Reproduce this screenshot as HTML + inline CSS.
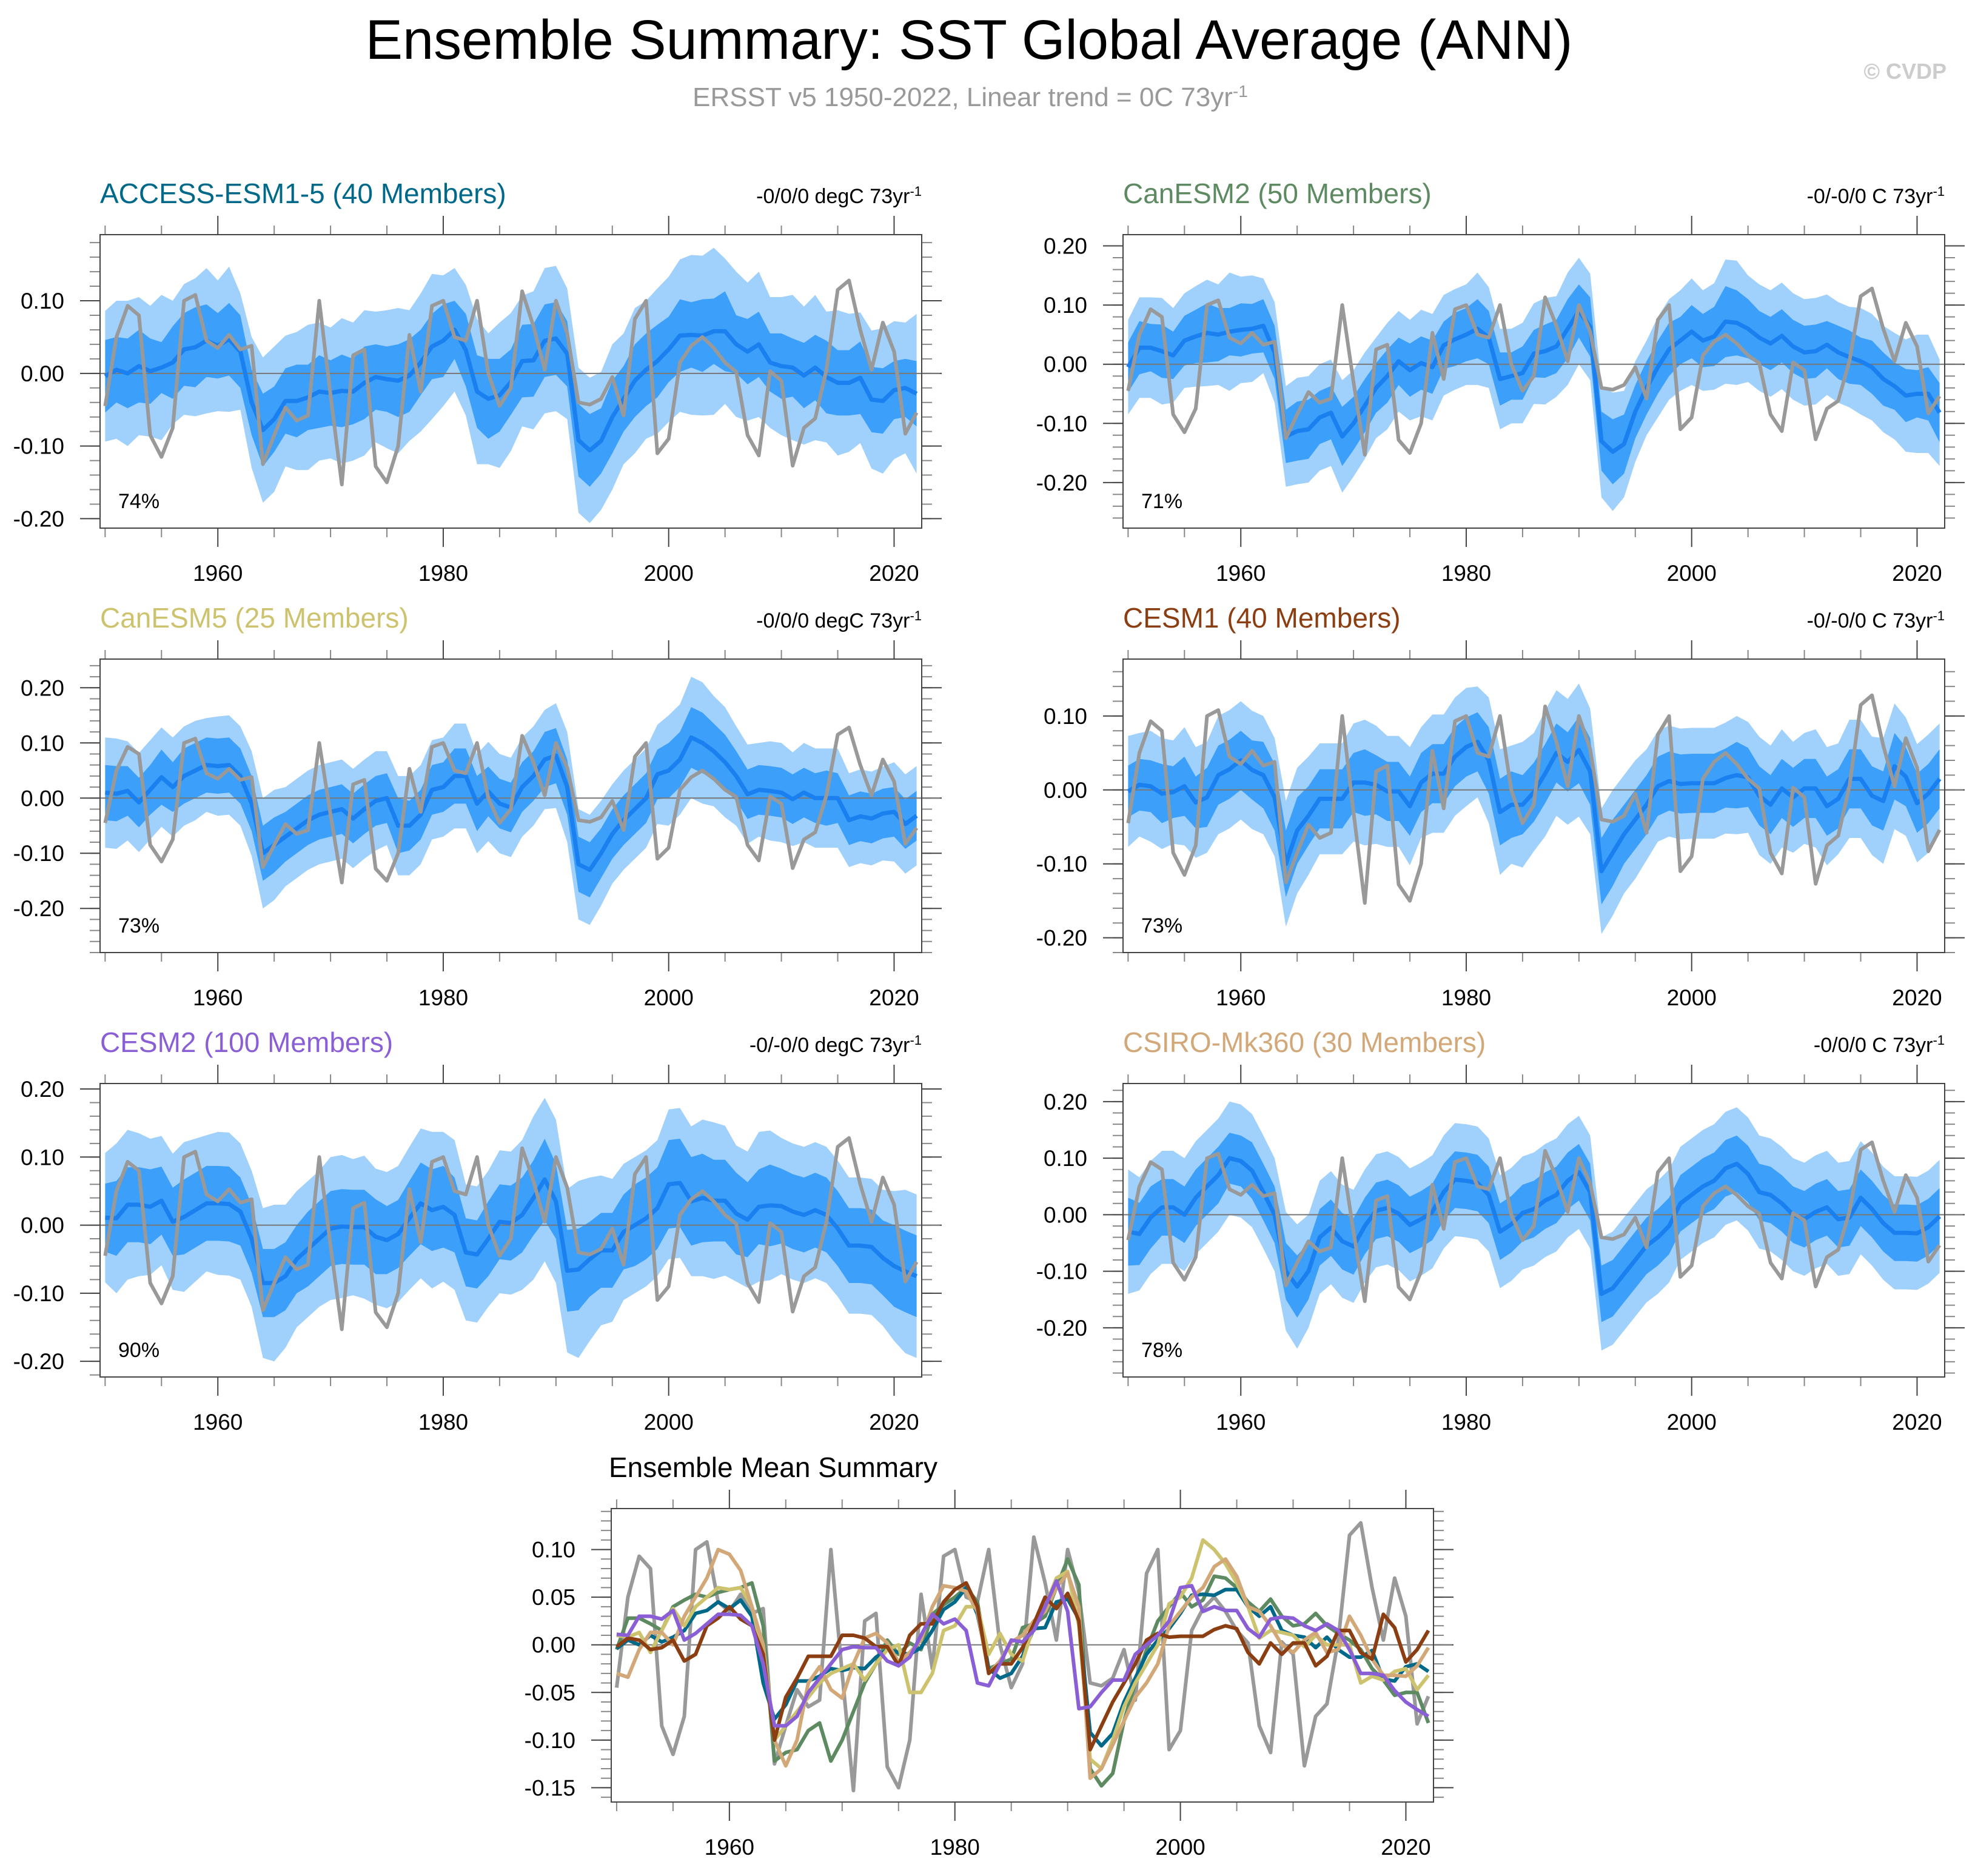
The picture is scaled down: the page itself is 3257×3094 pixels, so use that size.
<!DOCTYPE html>
<html><head><meta charset="utf-8"><title>Ensemble Summary: SST Global Average (ANN)</title>
<style>html,body{margin:0;padding:0;background:#fff}svg{display:block}text{font-family:"Liberation Sans",sans-serif}</style>
</head><body>
<svg id="chart" xmlns="http://www.w3.org/2000/svg" width="3257" height="3094" viewBox="0 0 3257 3094">
<rect width="3257" height="3094" fill="#fff"/>
<text x="1598" y="97" text-anchor="middle" font-size="92" fill="#000">Ensemble Summary: SST Global Average (ANN)</text>
<text x="1600" y="175" text-anchor="middle" font-size="44" fill="#999">ERSST v5 1950-2022, Linear trend = 0C 73yr<tspan baseline-shift="super" font-size="28">-1</tspan></text>
<text x="3210" y="130" text-anchor="end" font-size="36" font-weight="bold" fill="#ccc">© CVDP</text>
</svg>
<script>
const years = [];
for (let y = 1950; y <= 2022; y++) years.push(y);

const obs = [-0.045,0.05,0.093,0.08,-0.085,-0.115,-0.075,0.10,0.108,0.045,0.035,0.053,0.033,0.038,-0.125,-0.085,-0.047,-0.065,-0.058,0.10,
-0.03,-0.153,0.025,0.033,-0.128,-0.15,-0.10,0.053,-0.025,0.093,0.10,0.05,0.045,0.10,0.0,-0.045,-0.02,0.113,0.065,0.005,
0.10,0.055,-0.04,-0.043,-0.035,-0.005,-0.058,0.075,0.10,-0.11,-0.09,0.015,0.038,0.05,0.035,0.015,0.002,-0.085,-0.113,0.003,
-0.01,-0.127,-0.075,-0.062,0.005,0.115,0.128,0.06,0.005,0.07,0.03,-0.083,-0.054];

const meanACCESS = [-0.004,0.005,0,0.01,0.003,0.008,0.015,0.033,0.036,0.045,0.038,0.047,0.03,-0.04,-0.078,-0.063,-0.038,-0.038,-0.033,-0.025,
-0.027,-0.024,-0.025,-0.013,-0.005,-0.008,-0.01,-0.003,0.015,0.037,0.045,0.06,0.032,-0.025,-0.035,-0.03,-0.012,0.017,0.018,0.045,
0.048,0.027,-0.092,-0.106,-0.093,-0.06,-0.035,-0.01,0.005,0.017,0.033,0.052,0.053,0.052,0.058,0.058,0.04,0.03,0.04,0.015,
0.01,0.008,-0.003,0.008,-0.005,-0.013,-0.013,-0.006,-0.036,-0.038,-0.023,-0.02,-0.028];
const meanCanESM2 = [-0.005,0.028,0.028,0.022,0.015,0.04,0.047,0.053,0.05,0.055,0.058,0.06,0.065,0.02,-0.122,-0.113,-0.11,-0.09,-0.082,-0.122,
-0.1,-0.07,-0.04,-0.02,0.005,-0.01,0.002,-0.005,0.032,0.042,0.05,0.06,0.045,-0.025,-0.02,-0.015,0.018,0.022,0.03,0.06,
0.09,0.063,-0.13,-0.148,-0.135,-0.08,-0.04,-0.005,0.025,0.04,0.055,0.04,0.047,0.072,0.07,0.06,0.045,0.035,0.048,0.03,
0.02,0.022,0.033,0.02,0.012,0.005,-0.005,-0.025,-0.037,-0.053,-0.05,-0.05,-0.082];
const meanCanESM5 = [0.01,0.008,0.013,-0.008,0.015,0.038,0.02,0.04,0.05,0.06,0.058,0.06,0.04,-0.01,-0.1,-0.085,-0.07,-0.055,-0.04,-0.03,
-0.025,-0.02,-0.037,-0.02,-0.005,0.0,-0.05,-0.05,-0.03,0.015,0.02,0.04,0.04,-0.01,0.012,-0.01,-0.017,0.02,0.04,0.07,
0.077,0.02,-0.12,-0.13,-0.1,-0.065,-0.04,-0.02,0.0,0.043,0.05,0.07,0.11,0.1,0.085,0.065,0.04,0.007,0.015,0.013,
0.01,-0.002,0.01,0.0,0.0,0.0,-0.04,-0.033,-0.037,-0.028,-0.025,-0.047,-0.032];
const meanCESM1 = [-0.002,0.007,0.005,-0.005,-0.003,0.005,-0.017,-0.01,0.02,0.028,0.04,0.027,0.02,-0.01,-0.1,-0.055,-0.035,-0.012,-0.012,-0.012,
0.01,0.01,0.007,-0.002,-0.002,-0.022,0.01,0.022,0.022,0.045,0.058,0.065,0.04,-0.03,-0.02,-0.02,-0.003,0.022,0.05,0.038,
0.054,0.025,-0.11,-0.085,-0.06,-0.04,-0.02,0.005,0.012,0.008,0.009,0.009,0.009,0.016,0.02,0.017,-0.008,-0.02,0.002,-0.01,
0.002,0.002,-0.022,-0.012,0.015,0.015,-0.008,-0.015,0.032,0.018,-0.018,-0.005,0.015];
const meanCESM2 = [0.011,0.01,0.03,0.03,0.027,0.036,0.005,0.012,0.022,0.032,0.032,0.031,0.02,-0.02,-0.085,-0.085,-0.075,-0.05,-0.035,-0.02,
-0.005,-0.002,-0.003,-0.003,-0.017,-0.022,-0.013,0.01,0.032,0.022,0.027,0.015,-0.04,-0.043,-0.02,0.005,0.003,0.015,0.04,0.067,
0.035,-0.067,-0.065,-0.05,-0.037,-0.037,-0.01,0.0,0.01,0.025,0.06,0.062,0.035,0.04,0.036,0.036,0.017,0.008,0.027,0.029,
0.028,0.02,0.015,0.022,0.015,-0.005,-0.03,-0.03,-0.032,-0.048,-0.06,-0.068,-0.075];
const meanCSIRO = [-0.03,-0.034,-0.005,0.013,0.013,0.0,0.03,0.05,0.07,0.1,0.095,0.078,0.04,0.0,-0.1,-0.127,-0.1,-0.04,-0.023,-0.047,
-0.056,-0.02,0.007,0.012,0.002,-0.018,-0.008,0.005,0.04,0.062,0.06,0.056,0.035,-0.03,-0.017,0.003,0.01,0.025,0.035,0.06,
0.075,0.04,-0.14,-0.13,-0.105,-0.08,-0.055,-0.04,-0.02,0.02,0.035,0.05,0.06,0.082,0.09,0.072,0.04,0.035,0.02,0.0,
-0.008,0.005,0.013,-0.008,-0.005,0.03,0.01,-0.015,-0.032,-0.032,-0.033,-0.022,-0.003];

const innerACCESS = [0.05,0.045,0.048,0.05,0.045,0.035,0.05,0.05,0.055,0.05,0.045,0.05,0.05,0.045,0.05,0.045,0.045,0.05,0.045,0.05,
0.045,0.05,0.045,0.05,0.045,0.045,0.05,0.05,0.045,0.045,0.05,0.04,0.05,0.05,0.055,0.05,0.045,0.05,0.05,0.05,
0.05,0.045,0.05,0.05,0.045,0.05,0.045,0.05,0.05,0.05,0.045,0.05,0.045,0.05,0.045,0.055,0.04,0.045,0.045,0.04,
0.045,0.04,0.045,0.045,0.05,0.045,0.045,0.05,0.045,0.045,0.04,0.04,0.045];
const outerACCESS = [0.09,0.095,0.1,0.095,0.09,0.1,0.085,0.09,0.095,0.1,0.09,0.1,0.08,0.09,0.1,0.1,0.09,0.095,0.1,0.095,
0.09,0.1,0.095,0.1,0.09,0.095,0.1,0.09,0.095,0.1,0.09,0.085,0.09,0.1,0.09,0.1,0.095,0.09,0.095,0.1,
0.1,0.09,0.1,0.1,0.095,0.1,0.09,0.1,0.095,0.1,0.1,0.105,0.11,0.11,0.115,0.1,0.1,0.095,0.1,0.09,
0.095,0.1,0.095,0.1,0.09,0.1,0.095,0.09,0.095,0.1,0.095,0.09,0.11];
const innerCanESM2 = [0.042,0.045,0.04,0.045,0.04,0.042,0.045,0.05,0.045,0.04,0.045,0.042,0.045,0.045,0.045,0.05,0.05,0.045,0.045,0.05,
0.045,0.045,0.042,0.045,0.04,0.045,0.045,0.045,0.04,0.045,0.045,0.05,0.045,0.045,0.04,0.045,0.04,0.045,0.045,0.05,
0.045,0.05,0.05,0.055,0.05,0.045,0.045,0.045,0.045,0.04,0.045,0.045,0.05,0.06,0.055,0.05,0.045,0.045,0.045,0.045,
0.045,0.045,0.04,0.045,0.045,0.04,0.045,0.045,0.04,0.045,0.04,0.045,0.05];
const outerCanESM2 = [0.08,0.085,0.085,0.09,0.08,0.08,0.085,0.09,0.085,0.1,0.09,0.09,0.08,0.085,0.085,0.09,0.09,0.09,0.09,0.095,
0.09,0.09,0.085,0.09,0.085,0.085,0.09,0.09,0.085,0.085,0.085,0.095,0.085,0.085,0.08,0.085,0.085,0.09,0.085,0.095,
0.09,0.09,0.095,0.1,0.09,0.085,0.08,0.085,0.085,0.085,0.09,0.085,0.09,0.105,0.105,0.09,0.09,0.09,0.09,0.09,
0.09,0.09,0.085,0.085,0.085,0.09,0.09,0.09,0.09,0.095,0.1,0.1,0.09];
const innerCanESM5 = [0.05,0.05,0.045,0.045,0.045,0.05,0.045,0.05,0.05,0.05,0.05,0.05,0.05,0.05,0.05,0.05,0.045,0.045,0.045,0.045,
0.045,0.045,0.045,0.045,0.045,0.045,0.05,0.045,0.045,0.045,0.045,0.05,0.05,0.05,0.045,0.045,0.045,0.045,0.045,0.05,
0.05,0.05,0.05,0.05,0.045,0.045,0.045,0.045,0.045,0.045,0.05,0.05,0.055,0.055,0.05,0.05,0.045,0.045,0.045,0.045,
0.045,0.045,0.045,0.045,0.05,0.045,0.045,0.045,0.045,0.045,0.045,0.045,0.045];
const outerCanESM5 = [0.1,0.1,0.09,0.09,0.09,0.09,0.09,0.09,0.09,0.085,0.09,0.09,0.09,0.095,0.1,0.1,0.09,0.09,0.09,0.09,
0.09,0.09,0.09,0.09,0.09,0.085,0.09,0.09,0.09,0.09,0.09,0.095,0.095,0.09,0.09,0.09,0.09,0.09,0.09,0.09,
0.095,0.1,0.1,0.1,0.095,0.09,0.09,0.09,0.09,0.09,0.1,0.1,0.11,0.11,0.1,0.1,0.09,0.09,0.085,0.09,
0.09,0.085,0.09,0.09,0.09,0.09,0.085,0.085,0.085,0.085,0.09,0.09,0.09];
const innerCESM1 = [0.035,0.035,0.035,0.04,0.035,0.04,0.035,0.04,0.04,0.04,0.04,0.04,0.045,0.045,0.045,0.045,0.04,0.04,0.04,0.04,
0.04,0.045,0.04,0.04,0.04,0.04,0.04,0.04,0.04,0.04,0.04,0.04,0.045,0.045,0.045,0.04,0.04,0.04,0.04,0.04,
0.045,0.045,0.045,0.045,0.04,0.04,0.04,0.04,0.04,0.04,0.04,0.04,0.04,0.04,0.045,0.04,0.04,0.04,0.04,0.04,
0.04,0.04,0.04,0.04,0.04,0.04,0.04,0.04,0.045,0.04,0.04,0.04,0.04];
const outerCESM1 = [0.075,0.07,0.075,0.075,0.07,0.08,0.075,0.075,0.08,0.08,0.08,0.08,0.08,0.08,0.085,0.085,0.08,0.075,0.075,0.075,
0.08,0.085,0.08,0.075,0.075,0.08,0.075,0.08,0.08,0.08,0.08,0.075,0.085,0.085,0.08,0.085,0.08,0.085,0.085,0.085,
0.09,0.085,0.085,0.085,0.08,0.08,0.075,0.075,0.075,0.075,0.075,0.075,0.075,0.075,0.08,0.075,0.08,0.08,0.08,0.075,
0.075,0.08,0.08,0.075,0.08,0.08,0.08,0.085,0.085,0.08,0.08,0.08,0.075];
const innerCESM2 = [0.05,0.055,0.055,0.055,0.055,0.05,0.05,0.055,0.055,0.055,0.055,0.055,0.05,0.05,0.05,0.05,0.05,0.05,0.055,0.055,
0.055,0.055,0.055,0.055,0.055,0.05,0.05,0.055,0.06,0.06,0.06,0.055,0.05,0.05,0.055,0.055,0.055,0.055,0.055,0.06,
0.055,0.06,0.06,0.055,0.055,0.055,0.055,0.06,0.06,0.06,0.065,0.065,0.065,0.065,0.06,0.06,0.06,0.055,0.055,0.06,
0.055,0.055,0.055,0.055,0.055,0.055,0.055,0.055,0.055,0.055,0.06,0.06,0.06];
const outerCESM2 = [0.095,0.11,0.11,0.105,0.1,0.095,0.1,0.11,0.105,0.1,0.105,0.105,0.1,0.1,0.11,0.115,0.105,0.1,0.1,0.1,
0.105,0.105,0.1,0.105,0.1,0.1,0.1,0.105,0.11,0.115,0.11,0.11,0.1,0.1,0.1,0.105,0.105,0.11,0.12,0.12,
0.12,0.12,0.13,0.12,0.11,0.105,0.1,0.1,0.1,0.1,0.11,0.11,0.11,0.115,0.115,0.11,0.1,0.1,0.11,0.11,
0.1,0.1,0.1,0.1,0.1,0.1,0.1,0.1,0.1,0.1,0.11,0.12,0.12];
const innerCSIRO = [0.06,0.055,0.055,0.05,0.05,0.05,0.05,0.05,0.05,0.045,0.045,0.05,0.05,0.05,0.05,0.055,0.05,0.05,0.05,0.05,
0.05,0.05,0.05,0.05,0.05,0.05,0.05,0.05,0.05,0.05,0.05,0.05,0.05,0.05,0.05,0.05,0.05,0.05,0.05,0.05,
0.05,0.05,0.05,0.05,0.05,0.05,0.05,0.05,0.05,0.05,0.05,0.05,0.05,0.05,0.05,0.05,0.05,0.05,0.05,0.05,
0.05,0.05,0.05,0.05,0.05,0.05,0.05,0.05,0.05,0.05,0.05,0.05,0.05];
const outerCSIRO = [0.11,0.1,0.1,0.1,0.1,0.1,0.1,0.1,0.1,0.1,0.1,0.1,0.1,0.1,0.105,0.11,0.1,0.1,0.1,0.1,
0.1,0.1,0.1,0.1,0.1,0.1,0.1,0.1,0.1,0.1,0.1,0.1,0.1,0.1,0.1,0.1,0.1,0.1,0.1,0.1,
0.1,0.1,0.1,0.1,0.1,0.1,0.1,0.1,0.1,0.1,0.1,0.1,0.1,0.1,0.1,0.1,0.1,0.1,0.1,0.1,
0.1,0.1,0.1,0.1,0.1,0.1,0.1,0.1,0.1,0.1,0.1,0.1,0.1];

const modelNames = ["ACCESS-ESM1-5 (40 Members)","CanESM2 (50 Members)","CanESM5 (25 Members)","CESM1 (40 Members)","CESM2 (100 Members)","CSIRO-Mk360 (30 Members)"];
const trendLabels = ["-0/0/0 degC 73yr","-0/-0/0 C 73yr","-0/0/0 degC 73yr","-0/-0/0 C 73yr","-0/-0/0 degC 73yr","-0/0/0 C 73yr"];
const pctLabels = ["74%","71%","73%","73%","90%","78%"];
const yTickLabels = ["-0.20","-0.10","0.00","0.10","0.20"];
const yTickValues = [-0.2,-0.1,0,0.1,0.2];
const xTickYears = [1960,1980,2000,2020];
const sumTickLabels = ["-0.15","-0.10","-0.05","0.00","0.05","0.10"];
const sumTickValues = [-0.15,-0.1,-0.05,0,0.05,0.1];

const NS = "http://www.w3.org/2000/svg";
const svg = document.getElementById('chart');
function mk(tag, attrs, parent) {
  const e = document.createElementNS(NS, tag);
  for (const k in attrs) e.setAttribute(k, attrs[k]);
  (parent || svg).appendChild(e);
  return e;
}

const colors = ["#00698a","#5e8a62","#cdc36e","#8a3e12","#8a5fd6","#d2a878"];
const means = [meanACCESS,meanCanESM2,meanCanESM5,meanCESM1,meanCESM2,meanCSIRO];
const inners = [innerACCESS,innerCanESM2,innerCanESM5,innerCESM1,innerCESM2,innerCSIRO];
const outers = [outerACCESS,outerCanESM2,outerCanESM5,outerCESM1,outerCESM2,outerCSIRO];
const yRanges = [[-0.213,0.191],[-0.277,0.219],[-0.28,0.252],[-0.22,0.177],[-0.223,0.208],[-0.287,0.232]];

function axesFrame(g, L, T, W, H, xs, ys, ymin, ymax, tickVals, tickLabs, minorStep) {
  const start = Math.ceil(ymin / minorStep - 1e-6);
  for (let k = start; k * minorStep <= ymax + 1e-9; k++) {
    const v = k * minorStep, yy = ys(v);
    const t1 = mk('line', {x1: L - 17, x2: L, y1: yy, y2: yy, stroke: '#888', 'stroke-width': 2}, g);
    
    
    const t2 = mk('line', {x1: L + W, x2: L + W + 17, y1: yy, y2: yy, stroke: '#888', 'stroke-width': 2}, g);
    
    
  }
  tickVals.forEach((v, i) => {
    if (v < ymin || v > ymax) return;
    const yy = ys(v);
    const t1 = mk('line', {x1: L - 33, x2: L, y1: yy, y2: yy, stroke: '#444', 'stroke-width': 2}, g);
    
    
    const t2 = mk('line', {x1: L + W, x2: L + W + 33, y1: yy, y2: yy, stroke: '#444', 'stroke-width': 2}, g);
    
    
    const tx = mk('text', {x: L - 59, y: yy + 13, 'text-anchor': 'end', 'font-size': 37, fill: '#000'}, g);
    tx.textContent = tickLabs[i];
    
    
  });
  for (let yr = 1950; yr <= 2022; yr += 5) {
    const major = (yr % 20 === 0);
    const len = major ? 31 : 15;
    const xx = xs(yr);
    const t1 = mk('line', {x1: xx, x2: xx, y1: T - len, y2: T, stroke: major ? '#444' : '#888', 'stroke-width': 2}, g);
    
    
    const t2 = mk('line', {x1: xx, x2: xx, y1: T + H, y2: T + H + len, stroke: major ? '#444' : '#888', 'stroke-width': 2}, g);
    
    
  }
  xTickYears.forEach(yr => {
    const tx = mk('text', {x: xs(yr), y: T + H + 87, 'text-anchor': 'middle', 'font-size': 37, fill: '#000'}, g);
    tx.textContent = String(yr);
    
    
  });
  const zl = mk('line', {x1: L, x2: L + W + 30, y1: ys(0), y2: ys(0), stroke: '#777', 'stroke-width': 2}, g);
  
  
}

function pathFrom(vals, xs, ys) {
  return vals.map((v, i) => (i ? 'L' : 'M') + xs(years[i]).toFixed(1) + ',' + ys(v).toFixed(1)).join(' ');
}
function bandPath(mean, half, xs, ys) {
  let d = '';
  mean.forEach((m, i) => { d += (i ? 'L' : 'M') + xs(years[i]).toFixed(1) + ',' + ys(m + half[i]).toFixed(1) + ' '; });
  for (let i = mean.length - 1; i >= 0; i--) d += 'L' + xs(years[i]).toFixed(1) + ',' + ys(mean[i] - half[i]).toFixed(1) + ' ';
  return d + 'Z';
}

const lefts = [165, 1852];
const tops = [387, 1087, 1787];
const PW = 1355, PH = 484;

for (let p = 0; p < 6; p++) {
  const L = lefts[p % 2], T = tops[Math.floor(p / 2)];
  const [ymin, ymax] = yRanges[p];
  const xs = yr => L + (yr - 1949.55) / (2022.45 - 1949.55) * PW;
  const ys = v => T + (ymax - v) / (ymax - ymin) * PH;
  const g = mk('g', {});
  
  
  const title = mk('text', {x: L, y: T - 52, 'font-size': 46, fill: colors[p]}, g);
  title.textContent = modelNames[p];
  
  
  const tr = mk('text', {x: L + PW, y: T - 52, 'text-anchor': 'end', 'font-size': 34, fill: '#000'}, g);
  tr.textContent = trendLabels[p];
  const sup = mk('tspan', {'baseline-shift': 'super', 'font-size': 22}, tr);
  sup.textContent = '-1';
  
  
  const clipId = 'clip' + p;
  const cp = mk('clipPath', {id: clipId}, g);
  mk('rect', {x: L, y: T, width: PW, height: PH}, cp);
  const plot = mk('g', {'clip-path': 'url(#' + clipId + ')'}, g);
  
  
  const ob = mk('path', {d: bandPath(means[p], outers[p], xs, ys), fill: '#a0d0fc'}, plot);
  
  
  const ib = mk('path', {d: bandPath(means[p], inners[p], xs, ys), fill: '#3ca0fb'}, plot);
  
  
  axesFrame(g, L, T, PW, PH, xs, ys, ymin, ymax, yTickValues, yTickLabels, 0.02);
  const ml = mk('path', {d: pathFrom(means[p], xs, ys), fill: 'none', stroke: '#1a80f0', 'stroke-width': 7, 'stroke-linejoin': 'round'}, g);
  
  
  const ol = mk('path', {d: pathFrom(obs, xs, ys), fill: 'none', stroke: '#999', 'stroke-width': 6, 'stroke-linejoin': 'round'}, g);
  
  
  const fr = mk('rect', {x: L, y: T, width: PW, height: PH, fill: 'none', stroke: '#444', 'stroke-width': 2}, g);
  
  
  const pc = mk('text', {x: L + 30, y: T + PH - 33, 'font-size': 34, fill: '#000'}, g);
  pc.textContent = pctLabels[p];
  
  
}

{
  const L = 1008, T = 2488, W = 1356, H = 484, ymin = -0.165, ymax = 0.143;
  const xs = yr => L + (yr - 1949.52) / (2022.45 - 1949.52) * W;
  const ys = v => T + (ymax - v) / (ymax - ymin) * H;
  const g = mk('g', {});
  
  
  const title = mk('text', {x: 1004, y: 2436, 'font-size': 46, fill: '#000'}, g);
  title.textContent = 'Ensemble Mean Summary';
  
  
  axesFrame(g, L, T, W, H, xs, ys, ymin, ymax, sumTickValues, sumTickLabels, 0.01);
  const ol = mk('path', {d: pathFrom(obs, xs, ys), fill: 'none', stroke: '#999', 'stroke-width': 6, 'stroke-linejoin': 'round'}, g);
  
  
  const order = [1, 0, 2, 5, 3, 4];
  order.forEach(p => {
    const ml = mk('path', {d: pathFrom(means[p], xs, ys), fill: 'none', stroke: colors[p], 'stroke-width': 6, 'stroke-linejoin': 'round'}, g);
    
    
  });
  const fr = mk('rect', {x: L, y: T, width: W, height: H, fill: 'none', stroke: '#444', 'stroke-width': 2}, g);
  
  
}
</script>
</body></html>
